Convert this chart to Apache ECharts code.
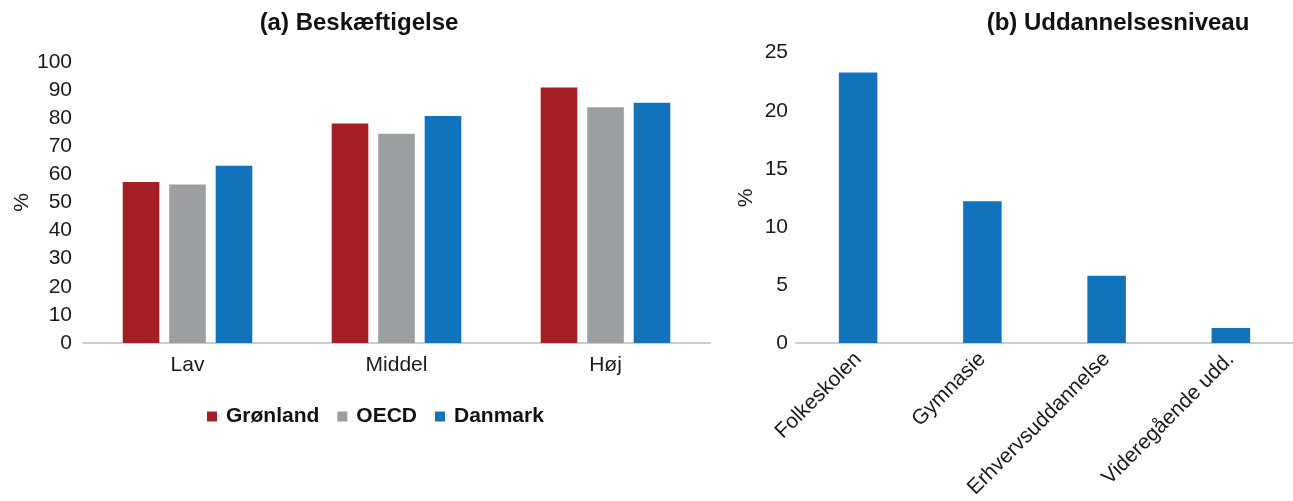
<!DOCTYPE html>
<html>
<head>
<meta charset="utf-8">
<script src="https://cdn.jsdelivr.net/npm/echarts@6/dist/echarts.min.js"></script>
<style>
html,body{margin:0;padding:0;background:#fff;}
#chart{width:1293px;height:501px;}
</style>
</head>
<body>
<div id="chart"></div>
<script>
// Panel (a) data
const categoriesA = ['Lav', 'Middel', 'Høj'];
const groenland = [57.3, 78.1, 90.9];
const oecd = [56.4, 74.5, 83.9];
const danmark = [63.1, 80.8, 85.5];
const seriesNamesA = ['Grønland', 'OECD', 'Danmark'];
const ticksA = { min: 0, max: 100, interval: 10 };

// Panel (b) data
const categoriesB = ['Folkeskolen', 'Gymnasie', 'Erhvervsuddannelse', 'Videregående udd.'];
const uddannelse = [23.3, 12.2, 5.8, 1.3];
const ticksB = { min: 0, max: 25, interval: 5 };

const titleA = '(a) Beskæftigelse';
const titleB = '(b) Uddannelsesniveau';

const FONT = '"Liberation Sans", Arial, sans-serif';
const TXT = '#1a1a1a';
const AXIS = '#c6ccd0';
const RED = '#a41e23';
const GRAY = '#9c9fa2';
const BLUE = '#1273bd';

const chart = echarts.init(document.getElementById('chart'));
chart.setOption({
  animation: false,
  textStyle: { fontFamily: FONT, color: TXT },
  title: [
    { text: titleA, left: 354, top: 6, textAlign: 'center',
      textStyle: { fontFamily: FONT, fontSize: 24, fontWeight: 'bold', color: '#111' } },
    { text: titleB, left: 1113, top: 6, textAlign: 'center',
      textStyle: { fontFamily: FONT, fontSize: 24, fontWeight: 'bold', color: '#111' } }
  ],
  legend: {
    left: 202, top: 401,
    itemWidth: 10, itemHeight: 10, itemGap: 18,
    icon: 'rect',
    data: seriesNamesA,
    textStyle: { fontFamily: FONT, fontSize: 21, fontWeight: 'bold', color: '#111', padding: [0, 0, 0, 4] }
  },
  grid: [
    { left: 83, right: 1293 - 710, top: 62, bottom: 501 - 343 },
    { left: 796, right: 0, top: 52.7, bottom: 501 - 343 }
  ],
  xAxis: [
    { type: 'category', gridIndex: 0, data: categoriesA,
      axisLine: { lineStyle: { color: AXIS, width: 2 } },
      axisTick: { show: false },
      axisLabel: { fontFamily: FONT, fontSize: 21, color: TXT, margin: 12 } },
    { type: 'category', gridIndex: 1, data: categoriesB,
      axisLine: { lineStyle: { color: AXIS, width: 2 } },
      axisTick: { show: false },
      axisLabel: { fontFamily: FONT, fontSize: 21, color: TXT, margin: 13, rotate: 45, interval: 0 } }
  ],
  yAxis: [
    { type: 'value', gridIndex: 0, min: ticksA.min, max: ticksA.max, interval: ticksA.interval,
      name: '%', nameLocation: 'middle', nameGap: 50, nameRotate: 90,
      nameTextStyle: { fontFamily: FONT, fontSize: 21, color: TXT },
      axisLine: { show: false }, axisTick: { show: false }, splitLine: { show: false },
      axisLabel: { fontFamily: FONT, fontSize: 21, color: TXT, margin: 11 } },
    { type: 'value', gridIndex: 1, min: ticksB.min, max: ticksB.max, interval: ticksB.interval,
      name: '%', nameLocation: 'middle', nameGap: 39, nameRotate: 90,
      nameTextStyle: { fontFamily: FONT, fontSize: 21, color: TXT },
      axisLine: { show: false }, axisTick: { show: false }, splitLine: { show: false },
      axisLabel: { fontFamily: FONT, fontSize: 21, color: TXT, margin: 8 } }
  ],
  series: [
    { name: seriesNamesA[0], type: 'bar', xAxisIndex: 0, yAxisIndex: 0, data: groenland,
      itemStyle: { color: RED }, barGap: '27%', barCategoryGap: '38%' },
    { name: seriesNamesA[1], type: 'bar', xAxisIndex: 0, yAxisIndex: 0, data: oecd,
      itemStyle: { color: GRAY }, barGap: '27%', barCategoryGap: '38%' },
    { name: seriesNamesA[2], type: 'bar', xAxisIndex: 0, yAxisIndex: 0, data: danmark,
      itemStyle: { color: BLUE }, barGap: '27%', barCategoryGap: '38%' },
    { name: 'Uddannelsesniveau', type: 'bar', xAxisIndex: 1, yAxisIndex: 1, data: uddannelse,
      itemStyle: { color: BLUE }, barCategoryGap: '69%' }
  ]
});
</script>
</body>
</html>
